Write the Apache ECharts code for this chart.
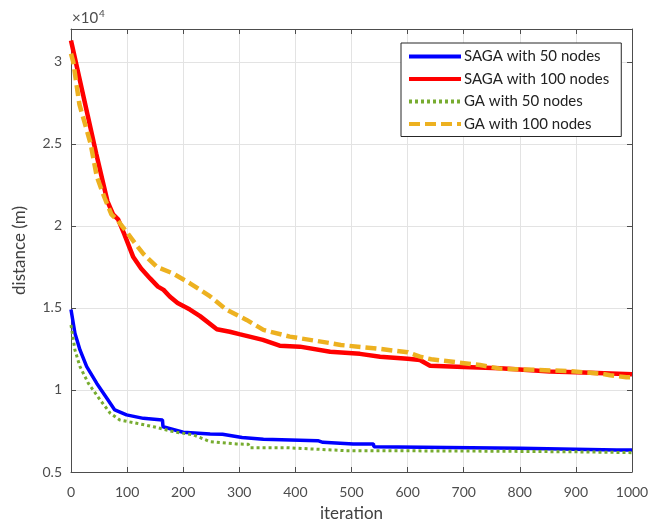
<!DOCTYPE html>
<html>
<head>
<meta charset="utf-8">
<script src="https://cdn.jsdelivr.net/npm/echarts@6/dist/echarts.min.js"></script>
<style>
  html, body { margin: 0; padding: 0; background: #fff; }
  #chart { width: 651px; height: 523px; }
</style>
</head>
<body>
<div id="chart"></div>
<script>
// iteration / best distance (m)
const saga50Iter = [0, 7, 16, 28, 46, 66, 78, 99, 129, 163, 164, 200, 248, 270, 305, 343, 440, 449, 503, 539, 540, 800, 973, 1000];
const saga50Dist = [14900, 13460, 12440, 11420, 10400, 9390, 8780, 8480, 8270, 8170, 7760, 7420, 7320, 7300, 7100, 6990, 6910, 6810, 6710, 6710, 6540, 6450, 6340, 6340];

const saga100Iter = [0, 15, 30, 45, 56, 65, 75, 84, 95, 111, 125, 141, 155, 165, 176, 190, 212, 230, 260, 283, 300, 342, 372, 408, 462, 515, 551, 600, 622, 640, 700, 765, 854, 900, 1000];
const saga100Dist = [31300, 29000, 26700, 24400, 22800, 21500, 20700, 20400, 19500, 18100, 17400, 16800, 16300, 16100, 15700, 15300, 14900, 14500, 13700, 13550, 13400, 13050, 12700, 12640, 12330, 12200, 12030, 11900, 11830, 11480, 11400, 11320, 11120, 11080, 10960];

const ga50Iter = [0, 7, 16, 31, 52, 70, 87, 117, 147, 182, 218, 248, 295, 316, 319, 384, 385, 491, 700, 900, 1000];
const ga50Dist = [13960, 12440, 11420, 10400, 9390, 8580, 8170, 7970, 7760, 7460, 7260, 6850, 6710, 6690, 6480, 6480, 6380, 6300, 6280, 6230, 6180];

const ga100Iter = [0, 4, 15, 28, 35, 46, 60, 72, 84, 100, 115, 129, 153, 182, 212, 248, 277, 313, 343, 390, 408, 463, 481, 551, 600, 622, 642, 729, 765, 889, 943, 961, 990, 1000];
const ga100Dist = [30500, 30000, 27400, 25850, 25000, 23000, 21700, 20700, 20300, 19600, 18900, 18300, 17500, 17100, 16500, 15700, 14900, 14270, 13660, 13250, 13150, 12850, 12740, 12500, 12300, 12030, 11870, 11520, 11300, 11150, 11000, 10900, 10770, 10770];

const xTicks = [0, 100, 200, 300, 400, 500, 600, 700, 800, 900, 1000];
const yTickLabels = ['0.5', '1', '1.5', '2', '2.5', '3'];

const seriesNames = ['SAGA with 50 nodes', 'SAGA with 100 nodes', 'GA with 50 nodes', 'GA with 100 nodes'];

function pairs(xs, ys) {
  return xs.map((x, i) => [x, ys[i]]);
}

const font = 'Lato, "Open Sans", sans-serif';
const frameColor = '#4d4d4d';
const labelColor = '#4d4d4d';

const chart = echarts.init(document.getElementById('chart'));

const axisBase = {
  type: 'value',
  axisLine: { show: true, onZero: false, lineStyle: { color: frameColor, width: 1 } },
  axisTick: { show: true, inside: true, length: 5, lineStyle: { color: frameColor } },
};

const option = {
  animation: false,
  backgroundColor: '#fff',
  grid: { left: 71, right: 19, top: 29, bottom: 51, containLabel: false, outerBoundsMode: 'none' },
  legend: {
    data: seriesNames,
    orient: 'vertical',
    left: 401,
    top: 43,
    itemWidth: 52,
    itemHeight: 14,
    itemGap: 7.5,
    padding: [6, 12, 5, 6],
    backgroundColor: '#fff',
    borderColor: '#262626',
    borderWidth: 1,
    borderRadius: 0,
    itemStyle: { opacity: 0 },
    lineStyle: { width: 4 },
    textStyle: { fontFamily: font, fontSize: 15, color: '#222', padding: [0, 0, 0, -2] }
  },
  xAxis: [
    Object.assign({}, axisBase, {
      position: 'bottom',
      min: 0, max: 1000, interval: 100,
      name: 'iteration',
      nameLocation: 'middle',
      nameGap: 33,
      nameTextStyle: { fontFamily: font, fontSize: 17, color: '#404040' },
      axisLabel: {
        margin: 13, color: labelColor, fontFamily: font, fontSize: 14,
        formatter: v => xTicks.indexOf(v) >= 0 ? String(v) : ''
      },
      splitLine: { show: true, lineStyle: { color: '#e3e3e3', width: 1 } }
    }),
    Object.assign({}, axisBase, {
      position: 'top',
      min: 0, max: 1000, interval: 100,
      axisLabel: { show: false },
      splitLine: { show: false }
    })
  ],
  yAxis: [
    Object.assign({}, axisBase, {
      position: 'left',
      min: 5000, max: 32000, interval: 5000,
      name: 'distance (m)',
      nameLocation: 'middle',
      nameGap: 43,
      nameTextStyle: { fontFamily: font, fontSize: 17, color: '#404040' },
      axisLabel: {
        margin: 9, color: labelColor, fontFamily: font, fontSize: 14,
        showMaxLabel: false,
        formatter: v => {
          const i = (v - 5000) / 5000;
          return Number.isInteger(i) && yTickLabels[i] ? yTickLabels[i] : '';
        }
      },
      splitLine: { show: true, lineStyle: { color: '#e3e3e3', width: 1 } }
    }),
    Object.assign({}, axisBase, {
      position: 'right',
      min: 5000, max: 32000, interval: 5000,
      axisLabel: { show: false },
      splitLine: { show: false }
    })
  ],
  graphic: [{
    type: 'text',
    left: 72,
    top: 9,
    style: {
      text: '{a|×10}{b|4}',
      rich: {
        a: { fontFamily: font, fontSize: 15, fill: labelColor },
        b: { fontFamily: font, fontSize: 10, fill: labelColor, verticalAlign: 'top', padding: [0, 0, 8, 1] }
      }
    }
  }],
  series: [
    {
      name: seriesNames[0], type: 'line', symbol: 'none', z: 3,
      data: pairs(saga50Iter, saga50Dist),
      lineStyle: { color: '#0000ff', width: 3.5 }, itemStyle: { color: '#0000ff' }
    },
    {
      name: seriesNames[1], type: 'line', symbol: 'none', z: 3,
      data: pairs(saga100Iter, saga100Dist),
      lineStyle: { color: '#ff0000', width: 4.5 }, itemStyle: { color: '#ff0000' }
    },
    {
      name: seriesNames[2], type: 'line', symbol: 'none', z: 3,
      data: pairs(ga50Iter, ga50Dist),
      lineStyle: { color: '#77ac30', width: 3, type: [3, 3] }, itemStyle: { color: '#77ac30' }
    },
    {
      name: seriesNames[3], type: 'line', symbol: 'none', z: 3,
      data: pairs(ga100Iter, ga100Dist),
      lineStyle: { color: '#edb120', width: 4.5, type: [11, 5] }, itemStyle: { color: '#edb120' }
    }
  ]
};

chart.setOption(option);
</script>
</body>
</html>
